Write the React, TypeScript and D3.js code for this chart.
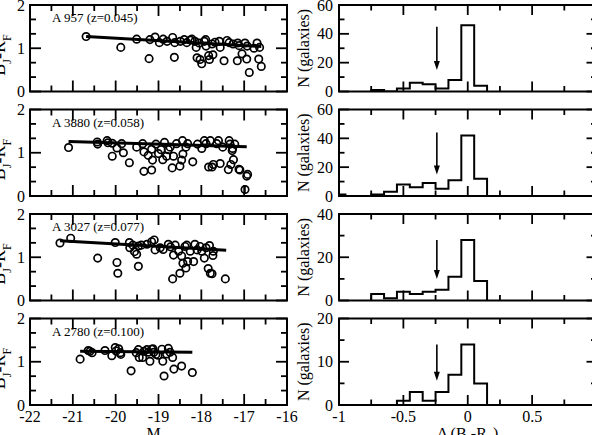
import { useRef, useEffect } from 'react';
import * as d3 from 'd3';

const W = 592, H = 435;
const FONT = "'Liberation Serif', 'DejaVu Serif', serif";

const clusterLabels = ["A 957 (z=0.045)", "A 3880 (z=0.058)", "A 3027 (z=0.077)", "A 2780 (z=0.100)"];

// [M, B_J - R_F] per galaxy
const a957 = [
  [-20.69, 1.27], [-19.88, 1.02], [-19.22, 0.76], [-19.51, 1.21], [-19.2, 1.2], [-19.08, 1.26],
  [-18.98, 1.13], [-18.89, 1.21], [-18.8, 1.16], [-18.67, 1.25], [-18.62, 1.13], [-18.63, 0.79],
  [-18.49, 1.16], [-18.34, 1.13], [-18.22, 1.21], [-18.15, 1.16], [-18.12, 1.02], [-18.1, 0.78],
  [-18.03, 0.74], [-17.99, 0.64], [-17.93, 1.16], [-17.89, 1.05], [-17.83, 0.83], [-17.81, 0.74],
  [-17.73, 0.85], [-17.68, 1.14], [-17.58, 1.16], [-17.56, 1.02], [-17.47, 0.71], [-17.35, 1.13],
  [-17.26, 1.1], [-17.16, 0.71], [-17.12, 1.06], [-17.05, 0.87], [-16.98, 1.12], [-16.94, 0.75],
  [-16.93, 1.05], [-16.88, 0.44], [-16.77, 1.0], [-16.7, 1.12], [-16.66, 0.75], [-16.64, 1.02],
  [-16.6, 0.58], [-18.26, 1.19], [-18.05, 1.12], [-17.9, 1.2], [-17.4, 1.18], [-18.4, 1.2],
  [-17.75, 1.1], [-17.15, 1.12]
];
const a3880 = [
  [-21.1, 1.12], [-20.43, 1.25], [-20.42, 1.2], [-20.2, 1.28], [-20.18, 1.23], [-20.08, 1.22],
  [-20.08, 0.92], [-19.97, 1.11], [-19.86, 1.21], [-19.82, 1.0], [-19.68, 0.77], [-19.51, 1.13],
  [-19.37, 1.21], [-19.34, 0.57], [-19.34, 1.02], [-19.24, 0.94], [-19.16, 0.6], [-19.16, 1.08],
  [-19.14, 0.83], [-19.06, 1.2], [-19.0, 0.98], [-18.94, 1.07], [-18.9, 0.84], [-18.86, 1.24],
  [-18.81, 0.92], [-18.77, 1.07], [-18.73, 1.13], [-18.68, 0.65], [-18.65, 0.92], [-18.58, 1.21],
  [-18.5, 0.69], [-18.46, 0.83], [-18.44, 1.28], [-18.43, 0.97], [-18.36, 1.13], [-18.32, 1.21],
  [-18.2, 0.79], [-18.09, 1.2], [-17.99, 1.1], [-17.93, 1.28], [-17.89, 1.21], [-17.83, 0.67],
  [-17.79, 1.28], [-17.75, 0.67], [-17.72, 0.73], [-17.64, 1.21], [-17.6, 1.28], [-17.56, 0.75],
  [-17.5, 1.13], [-17.37, 0.61], [-17.35, 1.28], [-17.33, 1.2], [-17.31, 0.73], [-17.28, 1.05],
  [-17.27, 1.1], [-17.25, 0.84], [-17.22, 1.2], [-17.12, 0.62], [-17.1, 0.6], [-16.94, 0.46],
  [-16.92, 0.5], [-16.98, 0.15]
];
const a3027 = [
  [-21.3, 1.33], [-21.05, 1.44], [-20.42, 0.98], [-20.01, 1.34], [-19.97, 0.88], [-19.95, 0.63],
  [-19.68, 1.34], [-19.67, 1.22], [-19.6, 1.28], [-19.56, 1.13], [-19.51, 1.07], [-19.47, 0.79],
  [-19.47, 1.26], [-19.4, 1.28], [-19.27, 1.3], [-19.16, 1.36], [-19.1, 1.4], [-19.08, 1.17],
  [-18.96, 1.22], [-18.89, 1.18], [-18.77, 1.3], [-18.72, 1.24], [-18.67, 0.5], [-18.65, 1.05],
  [-18.61, 1.28], [-18.53, 1.14], [-18.5, 0.63], [-18.46, 1.03], [-18.43, 0.86], [-18.38, 1.25],
  [-18.34, 1.28], [-18.36, 0.75], [-18.32, 0.9], [-18.26, 1.14], [-18.18, 0.9], [-18.15, 1.3],
  [-18.1, 1.17], [-18.03, 1.25], [-17.99, 1.14], [-17.93, 0.98], [-17.89, 1.22], [-17.84, 0.74],
  [-17.81, 1.27], [-17.79, 0.63], [-17.75, 0.62], [-17.73, 1.04], [-17.72, 1.14], [-17.44, 0.5]
];
const a2780 = [
  [-20.83, 1.06], [-20.64, 1.26], [-20.6, 1.24], [-20.55, 1.21], [-20.25, 1.26], [-20.09, 1.14],
  [-20.01, 1.33], [-19.99, 1.25], [-19.93, 1.3], [-19.89, 1.21], [-19.88, 1.17], [-19.64, 0.79],
  [-19.52, 1.21], [-19.47, 1.28], [-19.45, 1.1], [-19.37, 1.1], [-19.34, 1.24], [-19.27, 1.28],
  [-19.24, 1.22], [-19.2, 1.01], [-19.16, 1.29], [-19.13, 1.3], [-19.11, 1.22], [-19.06, 1.17],
  [-19.01, 1.15], [-18.92, 1.29], [-18.9, 1.01], [-18.87, 0.67], [-18.81, 1.18], [-18.77, 1.31],
  [-18.73, 1.22], [-18.67, 1.1], [-18.64, 0.83], [-18.46, 0.9], [-18.21, 0.75]
];
const clusterPoints = [a957, a3880, a3027, a2780];

// faint galaxy with an error bar in A 3880
const flaggedM = -16.98, flaggedColor = 0.15, flaggedErr = 0.1;

// red-sequence fits
const fitStartM = [-20.69, -21.1, -21.3, -20.83];
const fitEndM = [-16.6, -16.94, -17.42, -18.21];
const fitStartColor = [1.27, 1.26, 1.38, 1.24];
const fitEndColor = [1.04, 1.14, 1.16, 1.22];

// colour-residual histograms, bins of width 0.1
const binStarts = [-1.05, -0.95, -0.85, -0.75, -0.65, -0.55, -0.45, -0.35, -0.25, -0.15, -0.05, 0.05];
const binWidth = 0.1;
const countsA957 = [0, 0, 0, 1, 0, 2, 6, 5, 2, 8, 46, 4];
const countsA3880 = [1, 0, 0, 1, 3, 8, 6, 9, 5, 11, 42, 12];
const countsA3027 = [0, 0, 0, 3, 1, 4, 3, 4, 5, 11, 28, 9];
const countsA2780 = [0, 0, 0, 0, 0, 1, 3, 1, 3, 7, 14, 5];
const histCounts = [countsA957, countsA3880, countsA3027, countsA2780];
const histMax = [60, 60, 40, 20];
const histMajor = [20, 20, 20, 10];
const histMinor = [10, 10, 10, 5];

const arrowX = -0.24;
const arrowTop = [45, 44, 28, 14];
const arrowTip = [15, 15, 10, 5.6];

const magTicks = [-22, -21, -20, -19, -18, -17, -16];
const residTicks = [-1, -0.5, 0, 0.5, 1];

const panelTop = [5, 109.5, 214, 318.5];
const panelH = 86.5;

function drawTicks(g, x, y, xMaj, xMin, yMaj, yMin, L, l) {
  const [x0, x1] = x.range();
  const [y0, y1] = y.range();
  const seg = (a, b, c, d) => g.append("line")
    .attr("x1", a).attr("y1", b).attr("x2", c).attr("y2", d)
    .attr("stroke", "#000").attr("stroke-width", 1.8);
  xMaj.forEach(v => { seg(x(v), y0, x(v), y0 - L); seg(x(v), y1, x(v), y1 + L); });
  xMin.forEach(v => { seg(x(v), y0, x(v), y0 - l); seg(x(v), y1, x(v), y1 + l); });
  yMaj.forEach(v => { seg(x0, y(v), x0 + L, y(v)); seg(x1, y(v), x1 - L, y(v)); });
  yMin.forEach(v => { seg(x0, y(v), x0 + l, y(v)); seg(x1, y(v), x1 - l, y(v)); });
  g.append("rect")
    .attr("x", x0).attr("y", y1).attr("width", x1 - x0).attr("height", y0 - y1)
    .attr("fill", "none").attr("stroke", "#000").attr("stroke-width", 2);
}

function App() {
  const svgRef = useRef(null);

  useEffect(() => {
    const svg = d3.select(svgRef.current);
    svg.selectAll("*").remove();

    const xMag = d3.scaleLinear().domain([-22, -16]).range([30, 287]);
    const xRes = d3.scaleLinear().domain([-1, 1]).range([339, 596.5]);

    clusterPoints.forEach((pts, i) => {
      const top = panelTop[i], bottom = top + panelH;
      const last = i === clusterPoints.length - 1;

      // ---- colour-magnitude panel
      const y = d3.scaleLinear().domain([0, 2]).range([bottom, top]);
      const g = svg.append("g");

      g.selectAll("circle.gal")
        .data(pts)
        .enter()
        .append("circle")
        .attr("cx", d => xMag(d[0]))
        .attr("cy", d => y(d[1]))
        .attr("r", 3.7)
        .attr("fill", "none")
        .attr("stroke", "#000")
        .attr("stroke-width", 1.7);

      if (i === 1) {
        g.append("line")
          .attr("x1", xMag(flaggedM)).attr("x2", xMag(flaggedM))
          .attr("y1", y(flaggedColor - flaggedErr)).attr("y2", y(flaggedColor + flaggedErr))
          .attr("stroke", "#000").attr("stroke-width", 1.5);
      }

      g.append("line")
        .attr("x1", xMag(fitStartM[i])).attr("y1", y(fitStartColor[i]))
        .attr("x2", xMag(fitEndM[i])).attr("y2", y(fitEndColor[i]))
        .attr("stroke", "#000").attr("stroke-width", 3);

      drawTicks(g, xMag, y, magTicks, d3.range(-21.5, -16, 1), [0, 1, 2], [1 / 3, 2 / 3, 4 / 3, 5 / 3], 11, 6);

      g.selectAll("text.ylab")
        .data([0, 1, 2])
        .enter()
        .append("text")
        .attr("x", 25).attr("y", d => y(d)).attr("dy", "0.35em")
        .attr("text-anchor", "end")
        .style("font-family", FONT).style("font-size", "16px")
        .text(d => d);

      g.append("text")
        .attr("x", 52).attr("y", top + 17)
        .style("font-family", FONT).style("font-size", "13px")
        .text(clusterLabels[i]);

      // B_J - R_F axis title, largely off the left edge
      const yl = g.append("text")
        .attr("transform", `translate(5,${top + 50}) rotate(-90)`)
        .attr("text-anchor", "middle")
        .style("font-family", FONT).style("font-size", "18px");
      yl.append("tspan").text("B");
      yl.append("tspan").attr("dy", 6).style("font-size", "12px").text("J");
      yl.append("tspan").attr("dy", -6).text("-R");
      yl.append("tspan").attr("dy", 6).style("font-size", "12px").text("F");

      // ---- residual histogram panel
      const yh = d3.scaleLinear().domain([0, histMax[i]]).range([bottom, top]);
      const h = svg.append("g");
      const clipId = `clip-h${i}`;
      h.append("clipPath").attr("id", clipId)
        .append("rect")
        .attr("x", xRes(-1)).attr("y", top).attr("width", xRes(1) - xRes(-1)).attr("height", panelH);

      const counts = histCounts[i];
      const first = counts.findIndex(c => c > 0);
      let lastBin = counts.length - 1;
      while (counts[lastBin] === 0) lastBin--;
      const path = d3.path();
      path.moveTo(xRes(binStarts[first]), yh(0));
      for (let k = first; k <= lastBin; k++) {
        path.lineTo(xRes(binStarts[k]), yh(counts[k]));
        path.lineTo(xRes(binStarts[k] + binWidth), yh(counts[k]));
      }
      path.lineTo(xRes(binStarts[lastBin] + binWidth), yh(0));
      h.append("path")
        .attr("d", path.toString())
        .attr("clip-path", `url(#${clipId})`)
        .attr("fill", "none").attr("stroke", "#000").attr("stroke-width", 2);

      // arrow at the colour cut
      const ax = xRes(arrowX);
      const tipY = yh(arrowTip[i]);
      h.append("line")
        .attr("x1", ax).attr("x2", ax)
        .attr("y1", yh(arrowTop[i])).attr("y2", tipY - 6)
        .attr("stroke", "#000").attr("stroke-width", 1.6);
      h.append("path")
        .attr("d", `M${ax - 3},${tipY - 9} L${ax + 3},${tipY - 9} L${ax},${tipY} Z`)
        .attr("fill", "#000");

      const yMaj = d3.range(0, histMax[i] + 0.1, histMajor[i]);
      const yMin = d3.range(histMinor[i], histMax[i], histMajor[i]);
      drawTicks(h, xRes, yh, residTicks, [-0.75, -0.25, 0.25, 0.75], yMaj, yMin, 10, 5.5);

      h.selectAll("text.hlab")
        .data(yMaj)
        .enter()
        .append("text")
        .attr("x", 333).attr("y", d => yh(d)).attr("dy", "0.35em")
        .attr("text-anchor", "end")
        .style("font-family", FONT).style("font-size", "16px")
        .text(d => d);

      h.append("text")
        .attr("transform", `translate(309,${(top + bottom) / 2}) rotate(-90)`)
        .attr("text-anchor", "middle")
        .style("font-family", FONT).style("font-size", "16px")
        .text("N (galaxies)");

      if (last) {
        g.selectAll("text.xlab")
          .data(magTicks)
          .enter()
          .append("text")
          .attr("x", d => xMag(d)).attr("y", bottom + 17)
          .attr("text-anchor", "middle")
          .style("font-family", FONT).style("font-size", "16px")
          .text(d => d);
        g.append("text")
          .attr("x", (xMag(-22) + xMag(-16)) / 2 - 5).attr("y", bottom + 34)
          .attr("text-anchor", "middle")
          .style("font-family", FONT).style("font-size", "16px")
          .text("M");

        h.selectAll("text.xlab")
          .data(residTicks)
          .enter()
          .append("text")
          .attr("x", d => xRes(d)).attr("y", bottom + 17)
          .attr("text-anchor", "middle")
          .style("font-family", FONT).style("font-size", "16px")
          .text(d => d);
        const xl = h.append("text")
          .attr("x", xRes(0)).attr("y", bottom + 34)
          .attr("text-anchor", "middle")
          .style("font-family", FONT).style("font-size", "16px");
        xl.append("tspan").text("Δ (B");
        xl.append("tspan").attr("dy", 4).style("font-size", "11px").text("J");
        xl.append("tspan").attr("dy", -4).text("-R");
        xl.append("tspan").attr("dy", 4).style("font-size", "11px").text("F");
        xl.append("tspan").attr("dy", -4).text(")");
      }
    });
  }, []);

  return (
    <svg
      ref={svgRef}
      width={W}
      height={H}
      style={{ position: "absolute", left: 0, top: 0, background: "#fff" }}
    />
  );
}

export default App;
